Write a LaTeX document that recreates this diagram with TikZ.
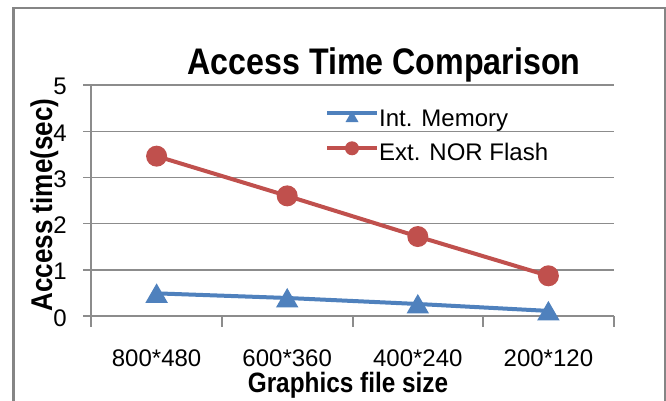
\documentclass[tikz,border=0pt]{standalone}
\usepackage{fontspec}
\setmainfont{Liberation Sans}
\usetikzlibrary{shapes.geometric,calc}

\definecolor{serblue}{HTML}{4F81BD}
\definecolor{serred}{HTML}{C0504D}
\definecolor{gridgray}{HTML}{8C8C8C}
\definecolor{framegray}{HTML}{858585}

% condensed bold face for titles
\newcommand{\condbf}[1]{\scalebox{0.87}[1]{\bfseries #1}}

\tikzset{
  gridline/.style={gridgray, line width=1.4pt},
  axisline/.style={gridgray, line width=1.4pt},
  series/.style={line width=4pt, line join=round},
  trimark/.style={regular polygon, regular polygon sides=3, minimum size=26pt,
                  inner sep=0pt, fill=serblue, draw=none, yshift=-3pt},
  dotmark/.style={circle, minimum size=21pt, inner sep=0pt, fill=serred, draw=none},
  smalltri/.style={trimark, minimum size=15pt, yshift=-2pt},
  smalldot/.style={dotmark, minimum size=14pt},
  ticklabel/.style={font=\fontsize{24}{26}\selectfont, inner sep=0pt, anchor=base},
}

\begin{document}
\begin{tikzpicture}[x=1pt, y=-1pt]
  \useasboundingbox[fill=white] (0,0) rectangle (666,401);

  % chart frame
  \draw[framegray, line width=2.5pt] (13.3,405) -- (13.3,8.2) -- (665,8.2) -- (665,405);

  % horizontal gridlines
  \foreach \k in {1,...,5}
    \draw[gridline] (83,{316-46.2*\k}) -- (614,{316-46.2*\k});

  % axes and category ticks
  \draw[axisline] (83,316) -- (614,316);
  \draw[axisline] (91,85) -- (91,327);
  \foreach \x in {222,353,483,614}
    \draw[axisline] (\x,316) -- (\x,327);

  % value axis labels
  \foreach \k in {0,...,5}
    \node[ticklabel, anchor=base east] (yl\k) at (67,{326-46.2*\k}) {\k};

  % category labels
  \node[ticklabel] (c1) at (156.6,366) {800*480};
  \node[ticklabel] (c2) at (287.2,366) {600*360};
  \node[ticklabel] (c3) at (417.8,366) {400*240};
  \node[ticklabel] (c4) at (548.4,366) {200*120};

  % titles
  \node[inner sep=0pt, anchor=base, font=\fontsize{37}{40}\selectfont] (title)
    at (384,75) {\condbf{Access Time Comparison}};
  \node[inner sep=0pt, anchor=base, font=\fontsize{28}{30}\selectfont] (xtitle)
    at (348,392) {\condbf{Graphics file size}};
  \node[inner sep=0pt, anchor=base, rotate=90, font=\fontsize{30}{32}\selectfont] (ytitle)
    at (52,205) {\condbf{Access time(sec)}};

  % data points
  \coordinate (i1) at (156.6,{316-46.2*0.49});
  \coordinate (i2) at (287.2,{316-46.2*0.39});
  \coordinate (i3) at (417.8,{316-46.2*0.26});
  \coordinate (i4) at (548.4,{316-46.2*0.11});
  \coordinate (e1) at (156.6,{316-46.2*3.46});
  \coordinate (e2) at (287.2,{316-46.2*2.60});
  \coordinate (e3) at (417.8,{316-46.2*1.72});
  \coordinate (e4) at (548.4,{316-46.2*0.87});

  % series lines
  \draw[series, serblue] (i1) -- (i2) -- (i3) -- (i4);
  \draw[series, serred] (e1) -- (e2) -- (e3) -- (e4);

  % markers
  \foreach \p in {i1,i2,i3,i4} \node[trimark] at (\p) {};
  \foreach \p in {e1,e2,e3,e4} \node[dotmark] at (\p) {};

  % legend
  \coordinate (la1) at (327,113.3);
  \coordinate (la2) at (377,113.3);
  \coordinate (lb1) at (327,148.3);
  \coordinate (lb2) at (377,148.3);
  \draw[series, serblue] (la1) -- (la2);
  \draw[series, serred] (lb1) -- (lb2);
  \node[smalltri] at ($(la1)!0.5!(la2)$) {};
  \node[smalldot] at ($(lb1)!0.5!(lb2)$) {};
  \node[ticklabel, anchor=base west] (leg1) at (379,126.7) {Int. Memory};
  \node[ticklabel, anchor=base west] (leg2) at (379,160) {Ext. NOR Flash};
\end{tikzpicture}
\end{document}
